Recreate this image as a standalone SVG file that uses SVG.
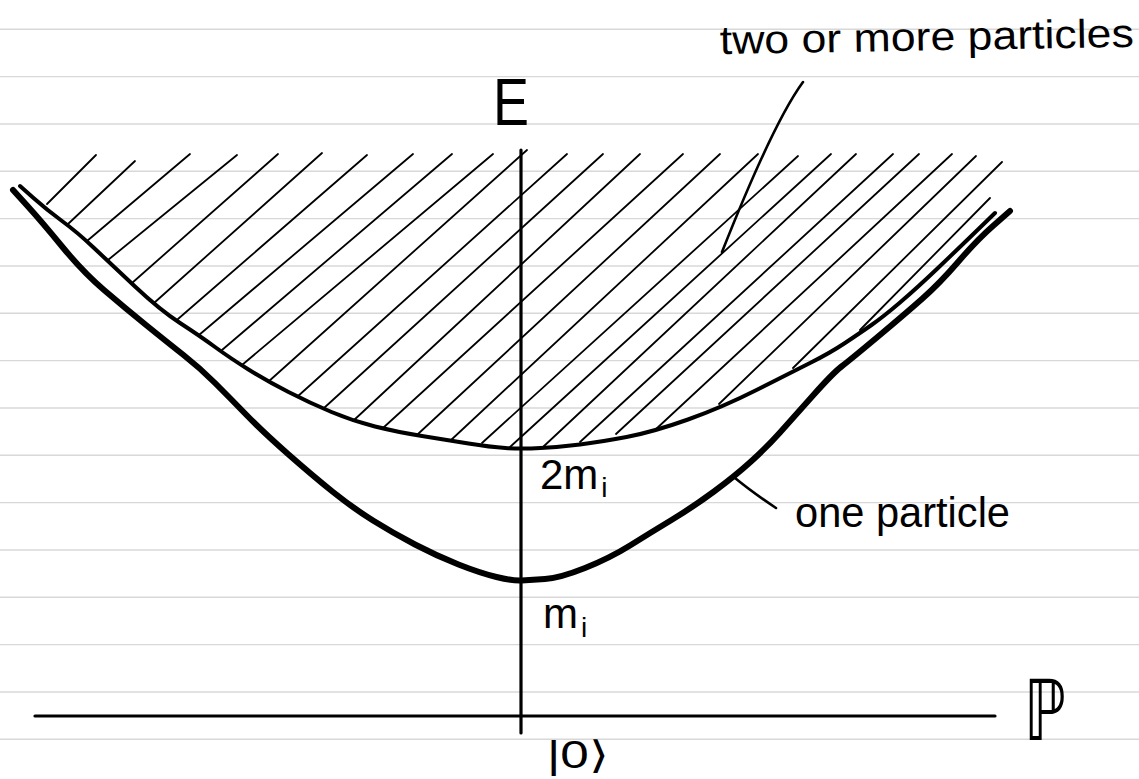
<svg xmlns="http://www.w3.org/2000/svg" width="1139" height="779" viewBox="0 0 1139 779">
<style>
.rule{stroke:#d8d8d8;stroke-width:1.4}
.axis{stroke:#000;stroke-width:3.2;fill:none;stroke-linecap:round}
.hatch{stroke:#000;stroke-width:1.8;stroke-linecap:round}
.one{stroke:#000;stroke-width:6;fill:none;stroke-linecap:round;stroke-linejoin:round}
.two{stroke:#000;stroke-width:4;fill:none;stroke-linecap:round;stroke-linejoin:round}
.ptr{stroke:#000;stroke-width:2.6;fill:none;stroke-linecap:round}
.lbl{font-family:"Liberation Sans",Arial,sans-serif;fill:#000}
</style>
<rect width="1139" height="779" fill="#fff"/>
<g id="paper">
<line class="rule" x1="0" y1="29.3" x2="1139" y2="29.3"/>
<line class="rule" x1="0" y1="76.6" x2="1139" y2="76.6"/>
<line class="rule" x1="0" y1="124" x2="1139" y2="124"/>
<line class="rule" x1="0" y1="171.3" x2="1139" y2="171.3"/>
<line class="rule" x1="0" y1="218.6" x2="1139" y2="218.6"/>
<line class="rule" x1="0" y1="266" x2="1139" y2="266"/>
<line class="rule" x1="0" y1="313.3" x2="1139" y2="313.3"/>
<line class="rule" x1="0" y1="360.6" x2="1139" y2="360.6"/>
<line class="rule" x1="0" y1="408" x2="1139" y2="408"/>
<line class="rule" x1="0" y1="455.3" x2="1139" y2="455.3"/>
<line class="rule" x1="0" y1="502.6" x2="1139" y2="502.6"/>
<line class="rule" x1="0" y1="550" x2="1139" y2="550"/>
<line class="rule" x1="0" y1="597.3" x2="1139" y2="597.3"/>
<line class="rule" x1="0" y1="644.6" x2="1139" y2="644.6"/>
<line class="rule" x1="0" y1="692" x2="1139" y2="692"/>
<line class="rule" x1="0" y1="739.3" x2="1139" y2="739.3"/>
</g>
<g id="hatching">
<line class="hatch" x1="96" y1="155" x2="47" y2="204"/>
<line class="hatch" x1="135" y1="161" x2="68" y2="224"/>
<line class="hatch" x1="190" y1="154" x2="87" y2="241"/>
<line class="hatch" x1="237" y1="155" x2="108" y2="260"/>
<line class="hatch" x1="278" y1="154" x2="132" y2="283"/>
<line class="hatch" x1="322" y1="153" x2="154" y2="303"/>
<line class="hatch" x1="367" y1="155" x2="178" y2="319"/>
<line class="hatch" x1="413" y1="154" x2="199" y2="335"/>
<line class="hatch" x1="452" y1="154" x2="222" y2="350"/>
<line class="hatch" x1="493" y1="154" x2="242" y2="365"/>
<line class="hatch" x1="527" y1="150" x2="268" y2="382"/>
<line class="hatch" x1="567" y1="154" x2="297" y2="397"/>
<line class="hatch" x1="603" y1="154" x2="324" y2="408"/>
<line class="hatch" x1="640" y1="154" x2="353" y2="421"/>
<line class="hatch" x1="683" y1="154" x2="383" y2="428"/>
<line class="hatch" x1="720" y1="154" x2="418" y2="434"/>
<line class="hatch" x1="758" y1="154" x2="450" y2="441"/>
<line class="hatch" x1="798" y1="156" x2="482" y2="443"/>
<line class="hatch" x1="831" y1="154" x2="510" y2="447"/>
<line class="hatch" x1="856" y1="154" x2="543" y2="447"/>
<line class="hatch" x1="893" y1="154" x2="580" y2="442"/>
<line class="hatch" x1="919" y1="154" x2="616" y2="434"/>
<line class="hatch" x1="952" y1="154" x2="655" y2="430"/>
<line class="hatch" x1="976" y1="156" x2="719" y2="404"/>
<line class="hatch" x1="1002" y1="162" x2="793" y2="368"/>
<line class="hatch" x1="990" y1="198" x2="860" y2="330"/>
</g>
<g id="axes">
<path class="axis" d="M521,150 L521,733"/>
<path class="axis" d="M35,716 L995,716"/>
</g>
<g id="two-particle-curve">
<path class="two" d="M20,186 L33.5,198 Q47,210 62,221 Q77,232 93.5,247.5 Q110,263 135,286.5 Q160,310 180,323 Q200,336 215,347 Q230,358 248.5,369.5 Q267,381 288.5,392 Q310,403 331.5,412 Q353,421 375,426.5 Q397,432 422,436 Q447,440 468.5,443.5 Q490,447 505.5,448 Q521,449 540.5,448 Q560,447 580,444.5 Q600,442 626.5,437 Q653,432 688,419.5 Q723,407 756.5,390 Q790,373 810,363 Q830,353 845,343 Q860,333 871.5,325 Q883,317 900,302.5 Q917,288 938.5,267.5 Q960,247 977.5,230 L995,213"/>
</g>
<g id="one-particle-curve">
<path class="one" d="M13,190 L27.5,206 Q42,222 62.5,247 Q83,272 104,290 Q125,308 146,325 Q167,342 183.5,355 Q200,368 215,383 Q230,398 246.5,415 Q263,432 288,454 Q313,476 333,492 Q353,508 373,520.5 Q393,533 415,544.5 Q437,556 458.5,564.5 Q480,573 496.5,577 Q513,581 521.5,580.5 Q530,580 545,579 Q560,578 585,568 Q610,558 630,545.5 Q650,533 671.5,520 Q693,507 714,491.5 Q735,476 751,461.5 Q767,447 780,432.5 Q793,418 813,395.5 Q833,373 841.5,366.5 Q850,360 877.5,337 Q905,314 922.5,298.5 Q940,283 958.5,261.5 Q977,240 993.5,225.5 L1010,211"/>
</g>
<g id="connectors">
<path class="ptr" d="M803,82 Q773,123 722,252"/>
<path class="ptr" d="M735,478 Q752,492 776,508"/>
</g>
<g id="label-E"><text class="lbl" x="493" y="125" font-size="66" textLength="36" lengthAdjust="spacingAndGlyphs">E</text></g>
<g id="label-P"><text x="1024" y="740" font-family="DejaVu Sans, sans-serif" font-size="84" textLength="42" lengthAdjust="spacingAndGlyphs" fill="#000">ℙ</text></g>
<g id="label-two"><text class="lbl" x="720" y="54" font-size="40" textLength="414" lengthAdjust="spacingAndGlyphs" transform="rotate(-1 720 54)">two or more particles</text></g>
<g id="label-one"><text class="lbl" x="795" y="527" font-size="42" textLength="215" lengthAdjust="spacingAndGlyphs">one particle</text></g>
<g id="label-2mi"><text class="lbl" x="540" y="489" font-size="42">2m<tspan font-size="28" dx="3" dy="8">i</tspan></text></g>
<g id="label-mi"><text class="lbl" x="543" y="628" font-size="42">m<tspan font-size="28" dx="3" dy="9">i</tspan></text></g>
<g id="label-vac"><text class="lbl" x="547" y="768" font-size="38" textLength="62" lengthAdjust="spacingAndGlyphs">|0⟩</text></g>
</svg>
